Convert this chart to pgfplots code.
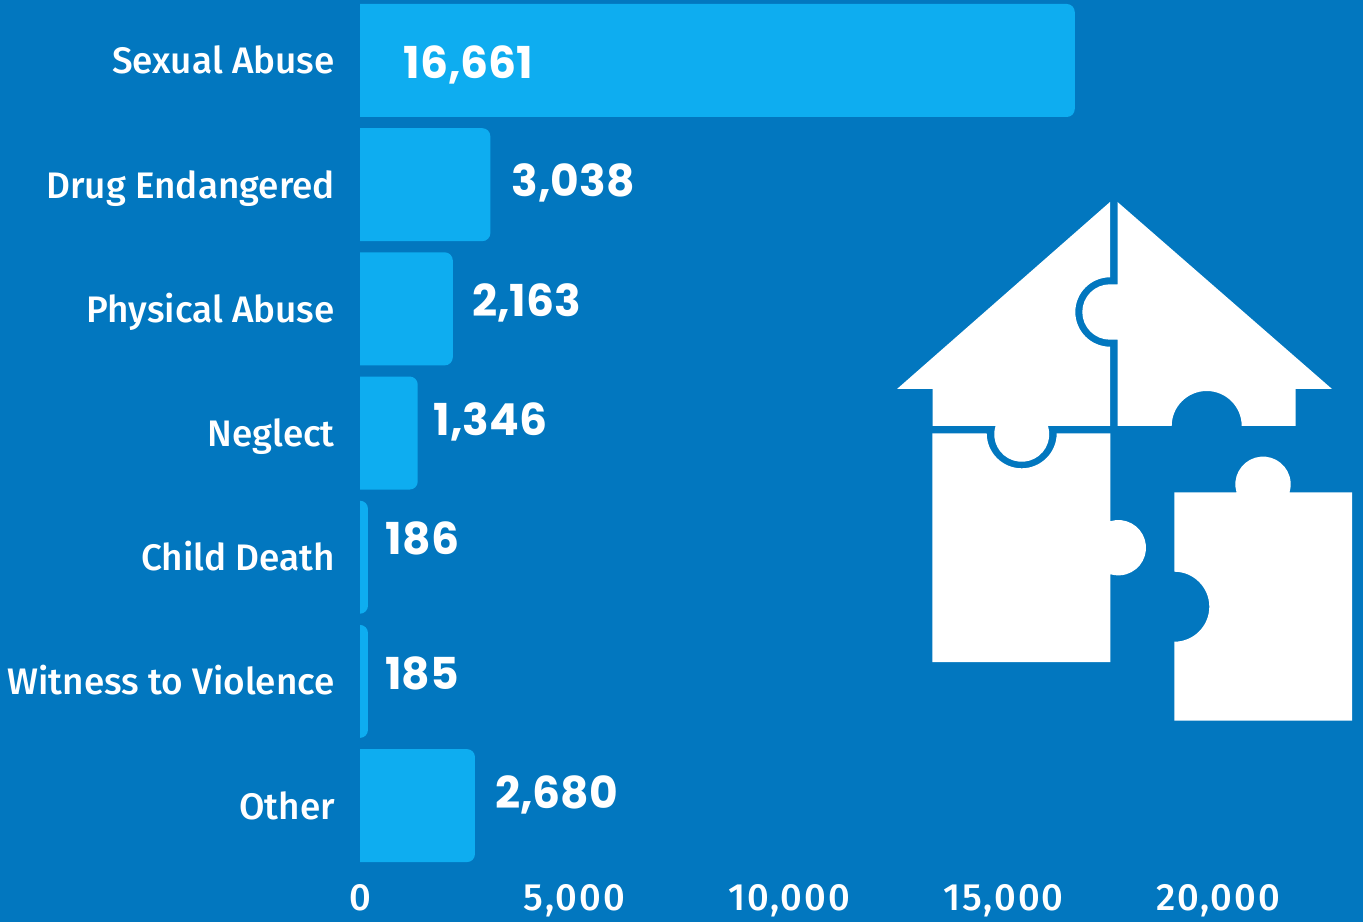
\documentclass[border=0pt]{standalone}
\usepackage{pgfplots}
\usepackage{fontspec}
\pgfplotsset{compat=1.18}
\setmainfont{Fira Sans Medium}
\newfontfamily\valfont{Poppins}
\definecolor{bgblue}{HTML}{0277BF}
\definecolor{barblue}{HTML}{0EADF0}
\begin{document}
\begin{tikzpicture}[x=1pt,y=1pt]
\useasboundingbox (0,0) rectangle (1363,922);
\fill[bgblue] (0,0) rectangle (1363,922);
\begin{axis}[
  at={(342.84pt,47pt)}, anchor=south west,
  scale only axis, width=1020.16pt, height=875pt,
  xmin=-400, xmax=23380,
  ymin=-0.487, ymax=6.559,
  y dir=reverse,
  x coord trafo/.code={\begingroup\pgfkeys{/pgf/fpu,/pgf/fpu/output format=fixed}\pgfmathparse{#1+300}\global\let\mytmp\pgfmathresult\endgroup\let\pgfmathresult\mytmp},
  axis line style={draw=none},
  major tick length=0pt,
  xtick={0,5000,10000,15000,20000},
  xticklabels={0,{5,000},{10,000},{15,000},{20,000}},
  ytick={0,1,2,3,4,5,6},
  yticklabels={Sexual Abuse,Drug Endangered,Physical Abuse,Neglect,Child Death,Witness to Violence,Other},
  tick label style={text=white, inner sep=0pt},
  y tick label style={font=\fontsize{36.9}{40}\selectfont, anchor=base east, xshift=-7.84pt, yshift=-13.5pt},
  x tick label style={font=\fontsize{38}{42}\selectfont\addfontfeature{LetterSpace=5}, anchor=base, yshift=-35.5pt},
  xbar, bar width=113pt, bar shift=0pt,
]
\addplot[draw=none, fill=barblue, rounded corners=8pt] coordinates {
  (16661,0) (3038,1) (2163,2) (1346,3) (186,4) (185,5) (2680,6)};
\end{axis}
\fill[bgblue] (335,47) rectangle (360,922);
\begin{scope}[font=\valfont\bfseries\fontsize{44}{48}\selectfont, text=white, inner sep=0pt]
\node at (468.5,857) {16,661};
\node at (573,739) {3,038};
\node at (526.5,619) {2,163};
\node at (490.5,500) {1,346};
\node at (422.5,384) {186};
\node at (422,249) {185};
\node at (556.5,127) {2,680};
\end{scope}
\begin{scope}[x=1pt,y=-1pt,shift={(0pt,922pt)}]
\fill[white] (1110,202) -- (897,389) -- (932.5,389) -- (932.5,426) -- (995.5,426)
  arc[start angle=197.5,end angle=-17.5,radius=27.5] -- (1110,426) -- (1110,346.7)
  arc[start angle=90,end angle=270,radius=34.7] -- cycle;
\fill[white] (1117.5,202) -- (1332,389) -- (1295.7,389) -- (1295.7,426) -- (1241.7,426)
  arc[start angle=0,end angle=-180,radius=35] -- (1117.5,426) -- (1117.5,339.7) -- (1110,339.7)
  arc[start angle=90,end angle=270,radius=27.7] -- (1117.5,284.3) -- cycle;
\fill[white] (932.3,433.3) -- (986.7,433.3)
  arc[start angle=180,end angle=0,radius=35] -- (1110.3,433.3) -- (1110.3,521.2)
  arc[start angle=-106.8,end angle=106.8,radius=27.7] -- (1110.3,662) -- (932.3,662) -- cycle;
\fill[white] (1174.3,492.3) -- (1236.5,492.3)
  arc[start angle=163.2,end angle=376.8,radius=27.7] -- (1352,492.3) -- (1352,720.7) -- (1174.3,720.7) -- (1174.3,641.7)
  arc[start angle=90,end angle=-90,radius=35] -- cycle;
\end{scope}
\end{tikzpicture}
\end{document}
